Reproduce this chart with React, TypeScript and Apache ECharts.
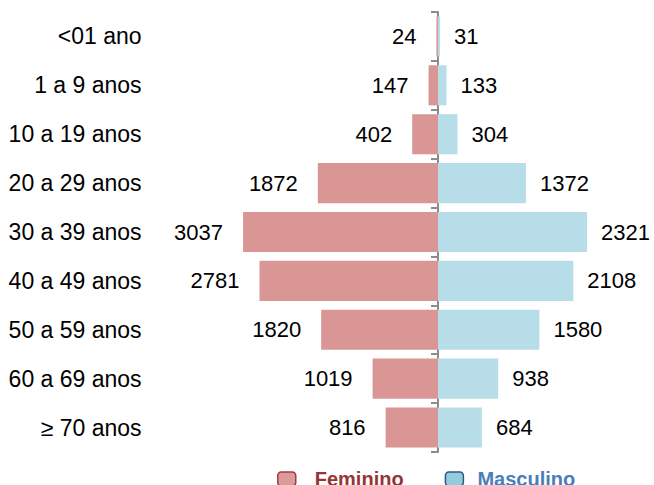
import React, { useEffect, useRef } from "react";
import * as echarts from "echarts";

const categories = ["<01 ano", "1 a 9 anos", "10 a 19 anos", "20 a 29 anos", "30 a 39 anos", "40 a 49 anos", "50 a 59 anos", "60 a 69 anos", "≥ 70 anos"];
const feminino = [24, 147, 402, 1872, 3037, 2781, 1820, 1019, 816];
const masculino = [31, 133, 304, 1372, 2321, 2108, 1580, 938, 684];

const FONT = "'Liberation Sans', Arial, sans-serif";

export default function App() {
  const ref = useRef<HTMLDivElement>(null);
  useEffect(() => {
    document.body.style.margin = "0";
    const chart = echarts.init(ref.current!, null, { renderer: "svg" });
    chart.setOption({
      animation: false,
      textStyle: { fontFamily: FONT },
      grid: { left: 232.6, right: 10.6, top: 12, bottom: 33, containLabel: false },
      legend: {
        left: 277,
        top: 469,
        padding: 0,
        itemWidth: 18,
        itemHeight: 14,
        itemGap: 41,
        icon: "roundRect",
        selectedMode: false,
        textStyle: { fontSize: 20, fontWeight: "bold", fontFamily: FONT },
        data: [
          { name: "Feminino", itemStyle: { color: "#dc9a9a", borderColor: "#a33c3c", borderWidth: 1.5 }, textStyle: { color: "#973535", padding: [0, 0, 0, 14] } },
          { name: "Masculino", itemStyle: { color: "#92cddc", borderColor: "#31588a", borderWidth: 1.5 }, textStyle: { color: "#4a7ebb", padding: [0, 0, 0, 9] } },
        ],
      },
      xAxis: {
        type: "value",
        min: -3200,
        max: 3200,
        show: false,
      },
      yAxis: [
        {
          type: "category",
          data: categories,
          inverse: true,
          position: "left",
          axisLine: { show: false, onZero: false },
          axisTick: { show: false },
          axisLabel: { margin: 91, fontSize: 23, color: "#000", fontFamily: FONT },
        },
        {
          type: "category",
          data: categories,
          inverse: true,
          position: "left",
          axisLine: { show: true, onZero: true, lineStyle: { color: "#8c8c8c", width: 2 } },
          axisTick: { show: true, length: 7, lineStyle: { color: "#8c8c8c", width: 2 } },
          axisLabel: { show: false },
        },
      ],
      series: [
        {
          name: "Feminino",
          type: "bar",
          stack: "t",
          yAxisIndex: 0,
          barCategoryGap: "18%",
          data: feminino.map((v) => -v),
          itemStyle: { color: "#d99694" },
          label: {
            show: true,
            position: "left",
            distance: 20,
            fontSize: 22,
            color: "#000",
            fontFamily: FONT,
            formatter: (p: any) => String(Math.abs(p.value)),
          },
        },
        {
          name: "Masculino",
          type: "bar",
          stack: "t",
          yAxisIndex: 0,
          barCategoryGap: "18%",
          data: masculino,
          itemStyle: { color: "#b7dee8" },
          label: {
            show: true,
            position: "right",
            distance: 14,
            fontSize: 22,
            color: "#000",
            fontFamily: FONT,
          },
        },
      ],
    });
    return () => chart.dispose();
  }, []);
  return <div ref={ref} style={{ width: 654, height: 485 }} />;
}
